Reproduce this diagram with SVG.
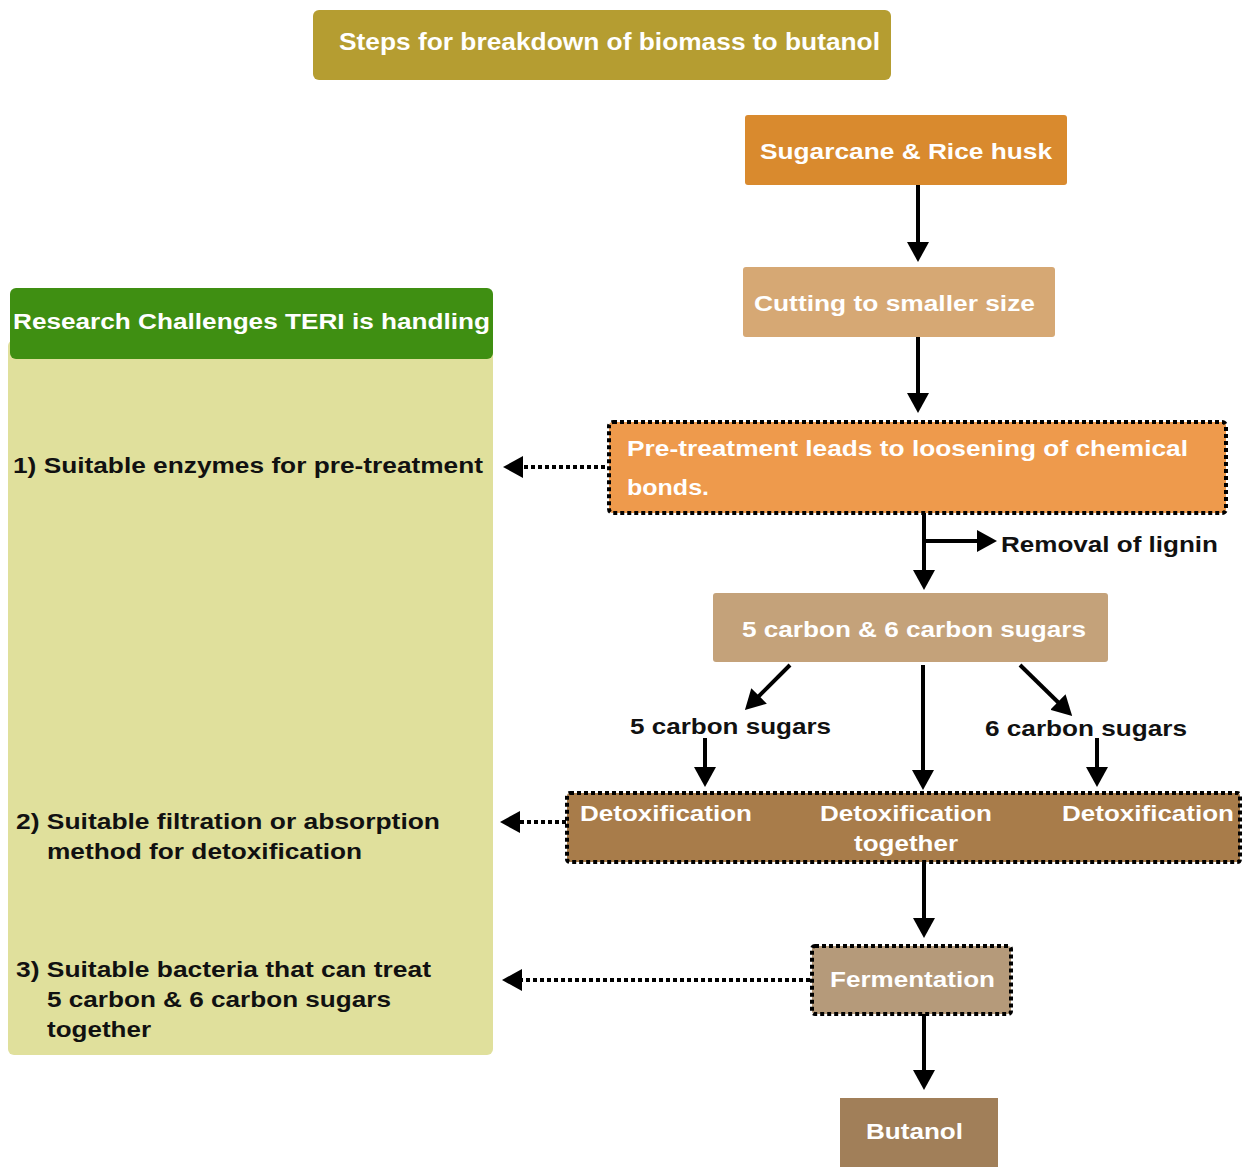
<svg xmlns="http://www.w3.org/2000/svg" width="1242" height="1167" viewBox="0 0 1242 1167">
<defs>
<style>
.w{font-family:"Liberation Sans",Arial,sans-serif;font-weight:bold;fill:#ffffff;font-size:22.5px}
.k{font-family:"Liberation Sans",Arial,sans-serif;font-weight:bold;fill:#111111;font-size:22.5px}
.dot{stroke:#000;stroke-width:4;stroke-dasharray:4 3}
.ln{stroke:#000;stroke-width:4;fill:none}
.dl{stroke:#000;stroke-width:4;fill:none;stroke-dasharray:4 3}
</style>
<marker id="ah" viewBox="0 0 20 22" refX="10" refY="11" markerWidth="20" markerHeight="22" markerUnits="userSpaceOnUse" orient="auto">
<path d="M0,0 L20,11 L0,22 z" fill="#000"/>
</marker>
</defs>
<rect width="1242" height="1167" fill="#ffffff"/>

<g id="title">
<rect x="313" y="10" width="578" height="70" rx="6" fill="#b59d31"/>
<text class="w" x="339" y="50" textLength="541" lengthAdjust="spacingAndGlyphs" style="font-size:24px">Steps for breakdown of biomass to butanol</text>
</g>

<g id="challenges">
<rect x="8" y="340" width="485" height="715" rx="6" fill="#e0e09c"/>
<rect x="10" y="288" width="483" height="71" rx="6" fill="#3f8f12"/>
<text class="w" x="13" y="329" textLength="477" lengthAdjust="spacingAndGlyphs">Research Challenges TERI is handling</text>
<text class="k" x="13" y="473" textLength="470" lengthAdjust="spacingAndGlyphs">1) Suitable enzymes for pre-treatment</text>
<text class="k" x="16" y="829" textLength="424" lengthAdjust="spacingAndGlyphs">2) Suitable filtration or absorption</text>
<text class="k" x="47" y="859" textLength="315" lengthAdjust="spacingAndGlyphs">method for detoxification</text>
<text class="k" x="16" y="977" textLength="415" lengthAdjust="spacingAndGlyphs">3) Suitable bacteria that can treat</text>
<text class="k" x="47" y="1007" textLength="344" lengthAdjust="spacingAndGlyphs">5 carbon &amp; 6 carbon sugars</text>
<text class="k" x="47" y="1037" textLength="104" lengthAdjust="spacingAndGlyphs">together</text>
</g>

<g id="sugarcane">
<rect x="745" y="115" width="322" height="70" rx="3" fill="#d98a2e"/>
<text class="w" x="760" y="159" textLength="292" lengthAdjust="spacingAndGlyphs">Sugarcane &amp; Rice husk</text>
</g>

<g id="cutting">
<rect x="743" y="267" width="312" height="70" rx="3" fill="#d6a874"/>
<text class="w" x="754" y="311" textLength="281" lengthAdjust="spacingAndGlyphs">Cutting to smaller size</text>
</g>

<g id="pretreatment">
<rect x="609" y="422" width="617" height="91" rx="4" fill="#ee9a4c" class="dot"/>
<text class="w" x="627" y="456" textLength="561" lengthAdjust="spacingAndGlyphs">Pre-treatment leads to loosening of chemical</text>
<text class="w" x="627" y="495" textLength="82" lengthAdjust="spacingAndGlyphs">bonds.</text>
</g>

<g id="lignin">
<text class="k" x="1001" y="552" textLength="217" lengthAdjust="spacingAndGlyphs">Removal of lignin</text>
</g>

<g id="sugars">
<rect x="713" y="593" width="395" height="69" rx="3" fill="#c4a27a"/>
<text class="w" x="742" y="637" textLength="344" lengthAdjust="spacingAndGlyphs">5 carbon &amp; 6 carbon sugars</text>
</g>

<g id="c5">
<text class="k" x="630" y="734" textLength="201" lengthAdjust="spacingAndGlyphs">5 carbon sugars</text>
</g>
<g id="c6">
<text class="k" x="985" y="736" textLength="202" lengthAdjust="spacingAndGlyphs">6 carbon sugars</text>
</g>

<g id="detox">
<rect x="567" y="793" width="673" height="69" rx="3" fill="#a87c4a" class="dot"/>
<text class="w" x="580" y="821" textLength="172" lengthAdjust="spacingAndGlyphs">Detoxification</text>
<text class="w" x="820" y="821" textLength="172" lengthAdjust="spacingAndGlyphs">Detoxification</text>
<text class="w" x="854" y="851" textLength="104" lengthAdjust="spacingAndGlyphs">together</text>
<text class="w" x="1062" y="821" textLength="172" lengthAdjust="spacingAndGlyphs">Detoxification</text>
</g>

<g id="fermentation">
<rect x="812" y="946" width="199" height="68" rx="3" fill="#b59a7a" class="dot"/>
<text class="w" x="830" y="987" textLength="165" lengthAdjust="spacingAndGlyphs">Fermentation</text>
</g>

<g id="butanol">
<rect x="840" y="1098" width="158" height="75" fill="#a17f59"/>
<text class="w" x="866" y="1139" textLength="97" lengthAdjust="spacingAndGlyphs">Butanol</text>
</g>

<g id="connectors">
<line class="ln" x1="918" y1="185" x2="918" y2="252" marker-end="url(#ah)"/>
<line class="ln" x1="918" y1="337" x2="918" y2="403" marker-end="url(#ah)"/>
<line class="ln" x1="924" y1="513" x2="924" y2="580" marker-end="url(#ah)"/>
<line class="ln" x1="924" y1="541" x2="987" y2="541" marker-end="url(#ah)"/>
<line class="ln" x1="790" y1="665" x2="752" y2="703" marker-end="url(#ah)"/>
<line class="ln" x1="923" y1="665" x2="923" y2="780" marker-end="url(#ah)"/>
<line class="ln" x1="1020" y1="665" x2="1065" y2="709" marker-end="url(#ah)"/>
<line class="ln" x1="705" y1="738" x2="705" y2="777" marker-end="url(#ah)"/>
<line class="ln" x1="1097" y1="738" x2="1097" y2="777" marker-end="url(#ah)"/>
<line class="ln" x1="924" y1="862" x2="924" y2="928" marker-end="url(#ah)"/>
<line class="ln" x1="924" y1="1014" x2="924" y2="1080" marker-end="url(#ah)"/>
<line class="dl" x1="605" y1="467" x2="513" y2="467" marker-end="url(#ah)"/>
<line class="dl" x1="566" y1="822" x2="510" y2="822" marker-end="url(#ah)"/>
<line class="dl" x1="810" y1="980" x2="512" y2="980" marker-end="url(#ah)"/>
</g>
</svg>
